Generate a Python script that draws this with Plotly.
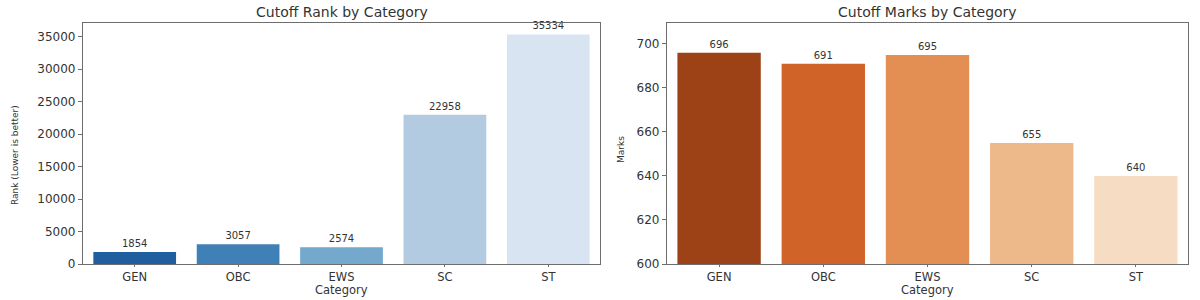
import plotly.graph_objects as go

categories = ["GEN", "OBC", "EWS", "SC", "ST"]
cutoff_rank = [1854, 3057, 2574, 22958, 35334]
cutoff_marks = [696, 691, 695, 655, 640]
blue_colors = ["#205f9f", "#3f80b6", "#74a8cd", "#b3cbe0", "#d8e4f1"]
orange_colors = ["#9d4117", "#cf6328", "#e38f53", "#edb98b", "#f6dcc2"]
rank_ticks = [0, 5000, 10000, 15000, 20000, 25000, 30000, 35000]
marks_ticks = [600, 620, 640, 660, 680, 700]

FONT = "DejaVu Sans"
TXT = "#333333"

fig = go.Figure()
fig.add_trace(go.Bar(
    x=categories, y=cutoff_rank, marker=dict(color=blue_colors, line=dict(width=0)),
    width=0.8, text=[str(v) for v in cutoff_rank], textposition="outside",
    textfont=dict(family=FONT, size=10, color=TXT), cliponaxis=False,
    xaxis="x", yaxis="y", showlegend=False))
fig.add_trace(go.Bar(
    x=categories, y=cutoff_marks, marker=dict(color=orange_colors, line=dict(width=0)),
    width=0.8, text=[str(v) for v in cutoff_marks], textposition="outside",
    textfont=dict(family=FONT, size=10, color=TXT), cliponaxis=False,
    xaxis="x2", yaxis="y2", showlegend=False))

axis_common = dict(showline=True, linecolor="#6e6e6e", linewidth=1.3, mirror=True,
                   ticks="outside", tickcolor="#6e6e6e", showgrid=False,
                   zeroline=False, automargin=False)
xfont = dict(family=FONT, size=11.5, color=TXT)
yfont = dict(family=FONT, size=12, color=TXT)

fig.update_layout(
    width=1200, height=300, margin=dict(l=0, r=0, t=0, b=0),
    paper_bgcolor="white", plot_bgcolor="white", bargap=0.2,
    xaxis=dict(domain=[83/1200, 600/1200], anchor="y", type="category",
               range=[-0.5, 4.5], ticklen=2, tickfont=xfont, **axis_common),
    yaxis=dict(domain=[1-264/300, 1-23/300], anchor="x", range=[0, 37100], ticklen=4,
               tickfont=yfont, tickvals=rank_ticks, ticktext=[str(v) for v in rank_ticks],
               **axis_common),
    xaxis2=dict(domain=[667/1200, 1188/1200], anchor="y2", type="category",
                range=[-0.5, 4.5], ticklen=2, tickfont=xfont, **axis_common),
    yaxis2=dict(domain=[1-264/300, 1-23/300], anchor="x2", range=[600, 709.5], ticklen=4,
                tickfont=yfont, tickvals=marks_ticks, ticktext=[str(v) for v in marks_ticks],
                **axis_common),
    font=dict(family=FONT, color=TXT),
)

annos = [
    dict(text="Cutoff Rank by Category", x=341.5/1200, y=1-12/300, size=14),
    dict(text="Cutoff Marks by Category", x=927.5/1200, y=1-12/300, size=14),
    dict(text="Category", x=341.5/1200, y=1-290/300, size=11.5),
    dict(text="Category", x=927.5/1200, y=1-290/300, size=11.5),
]
for a in annos:
    fig.add_annotation(text=a["text"], x=a["x"], y=a["y"], xref="paper", yref="paper",
                       showarrow=False, xanchor="center", yanchor="middle",
                       font=dict(family=FONT, size=a["size"], color=TXT))
fig.add_annotation(text="Rank (Lower is better)", x=15/1200, y=1-155/300, xref="paper", yref="paper",
                   showarrow=False, textangle=-90, xanchor="center", yanchor="middle",
                   font=dict(family=FONT, size=9, color=TXT))
fig.add_annotation(text="Marks", x=621/1200, y=1-150/300, xref="paper", yref="paper",
                   showarrow=False, textangle=-90, xanchor="center", yanchor="middle",
                   font=dict(family=FONT, size=9, color=TXT))

fig.write_html("out.html")
